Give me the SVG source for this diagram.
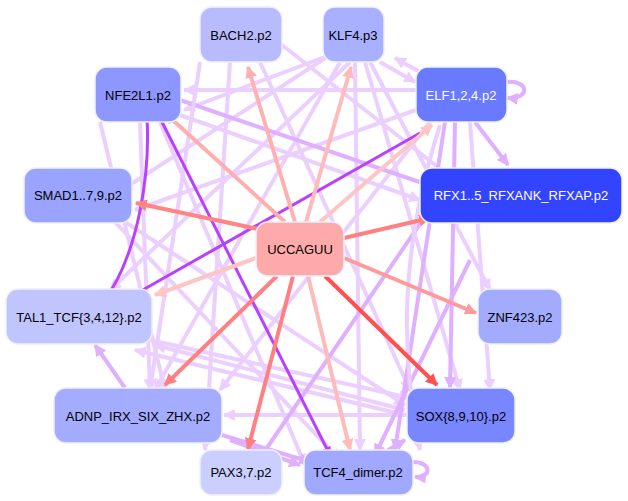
<svg xmlns="http://www.w3.org/2000/svg" width="628" height="501" viewBox="0 0 628 501">
<defs>
<marker id="a" viewBox="0 0 10 10" refX="9" refY="5" markerWidth="3" markerHeight="3" orient="auto"><path d="M0,0L10,5L0,10z" fill="context-stroke"/></marker>
<style>
.n rect{stroke:#eef0ff;stroke-width:1.5}
.n text{font-family:"Liberation Sans",Arial,sans-serif;font-size:13px;text-anchor:middle;dominant-baseline:central;fill:#000}
.w text{fill:#fff}
#edges path{fill:none;stroke-width:4;marker-end:url(#a)}
.l{stroke:#ebcfff}
.m{stroke:#dfb0ff}
.d{stroke:#b840ff;stroke-width:3!important}
</style>
</defs>
<rect width="628" height="501" fill="#fff"/>
<g id="edges">
<path class="l" d="M230,62L205,450"/>
<path class="l" d="M260,62L410,390"/>
<path class="l" d="M282,45L480,200"/>
<path class="l" d="M330,55L122,190"/>
<path class="l" d="M330,55L184,110"/>
<path class="l" d="M340,62L155,390"/>
<path class="l" d="M350,62L110,290"/>
<path class="l" d="M355,62L360,450"/>
<path class="l" d="M365,62L460,390"/>
<path class="l" d="M370,62L490,290"/>
<path class="l" d="M416,90L184,90"/>
<path class="l" d="M416,110L135,210"/>
<path class="l" d="M430,122L220,390"/>
<path class="l" d="M180,115L420,200"/>
<path class="m" d="M180,100L472,200"/>
<path class="l" d="M160,122L305,465"/>
<path class="l" d="M140,122L150,390"/>
<path class="l" d="M100,122L165,390"/>
<path class="l" d="M115,222L340,460"/>
<path class="l" d="M125,222L405,405"/>
<path class="l" d="M150,340L410,398"/>
<path class="l" d="M405,410L155,345"/>
<path class="l" d="M405,415L135,350"/>
<path class="l" d="M407,415L224,415"/>
<path class="m" d="M125,388L95,345"/>
<path class="m" d="M222,435L310,462"/>
<path class="m" d="M230,440L300,465"/>
<path class="l" d="M200,62L150,390"/>
<path class="m" d="M445,122L395,450"/>
<path class="m" d="M450,180L260,458"/>
<path class="m" d="M470,260L375,455"/>
<path class="m" d="M455,122L450,388"/>
<path class="l" d="M470,122L490,390"/>
<path class="m" d="M475,122L508,165"/>
<path class="l" d="M440,125C400,250 400,350 420,450"/>
<path class="m" d="M380,455L405,440"/>
<path class="d" d="M420,133L125,300"/>
<path class="d" d="M147,118C150,170 140,250 105,300"/>
<path class="d" d="M160,118L330,455"/>
<path class="m" d="M507,82C530,80 530,100 507,98"/>
<path class="m" d="M413,462C432,462 432,478 415,477"/>
<path class="l" d="M380,62L415,82"/>
<path class="l" d="M420,72L395,58"/>
<path d="M272,232L136,203" stroke="#ff8585"/>
<path d="M285,222L165,113" stroke="#ffadad"/>
<path d="M295,222L248,67" stroke="#ffb0b0"/>
<path d="M306,222L351,67" stroke="#ffbaba"/>
<path d="M320,222L432,125" stroke="#ffc4c4"/>
<path d="M344,238L430,218" stroke="#ff8080"/>
<path d="M344,258L476,313" stroke="#ff9a9a"/>
<path d="M325,276L437,385" stroke="#ff5050"/>
<path d="M308,276L350,450" stroke="#ffbaba"/>
<path d="M293,276L248,449" stroke="#ff8080"/>
<path d="M277,276L165,385" stroke="#ff8080"/>
<path d="M256,258L155,295" stroke="#ffc4c4"/>
</g>
<g id="BACH2" class="n"><rect x="200" y="7" width="82" height="55" rx="12" fill="#b8bcff"/><text x="241" y="35">BACH2.p2</text></g>
<g id="KLF4" class="n"><rect x="323" y="7" width="61" height="55" rx="12" fill="#a9b0ff"/><text x="353" y="35">KLF4.p3</text></g>
<g id="NFE2L1" class="n"><rect x="95" y="67" width="86" height="55" rx="12" fill="#8d97ff"/><text x="138" y="95">NFE2L1.p2</text></g>
<g id="ELF" class="n w"><rect x="416" y="67" width="91" height="55" rx="12" fill="#6a7aff"/><text x="461" y="95">ELF1,2,4.p2</text></g>
<g id="SMAD" class="n"><rect x="24" y="168" width="108" height="55" rx="12" fill="#9aa4ff"/><text x="78" y="195">SMAD1..7,9.p2</text></g>
<g id="RFX" class="n w"><rect x="420" y="168" width="202" height="55" rx="12" fill="#3344ff"/><text x="521" y="195">RFX1..5_RFXANK_RFXAP.p2</text></g>
<g id="UCCAGUU" class="n"><rect x="256" y="222" width="88" height="54" rx="12" fill="#ffaaaa"/><text x="300" y="249">UCCAGUU</text></g>
<g id="TAL1" class="n"><rect x="6" y="289" width="146" height="55" rx="12" fill="#c0c4ff"/><text x="79" y="317">TAL1_TCF{3,4,12}.p2</text></g>
<g id="ZNF423" class="n"><rect x="478" y="289" width="84" height="55" rx="12" fill="#a3abff"/><text x="520" y="317">ZNF423.p2</text></g>
<g id="ADNP" class="n"><rect x="54" y="388" width="168" height="55" rx="12" fill="#a4acff"/><text x="138" y="416">ADNP_IRX_SIX_ZHX.p2</text></g>
<g id="SOX" class="n"><rect x="407" y="388" width="108" height="55" rx="12" fill="#7886ff"/><text x="461" y="416">SOX{8,9,10}.p2</text></g>
<g id="PAX3" class="n"><rect x="200" y="450" width="82" height="45" rx="12" fill="#cbcfff"/><text x="241" y="472">PAX3,7.p2</text></g>
<g id="TCF4" class="n"><rect x="304" y="450" width="109" height="45" rx="12" fill="#a0a8ff"/><text x="358" y="472">TCF4_dimer.p2</text></g>
</svg>
